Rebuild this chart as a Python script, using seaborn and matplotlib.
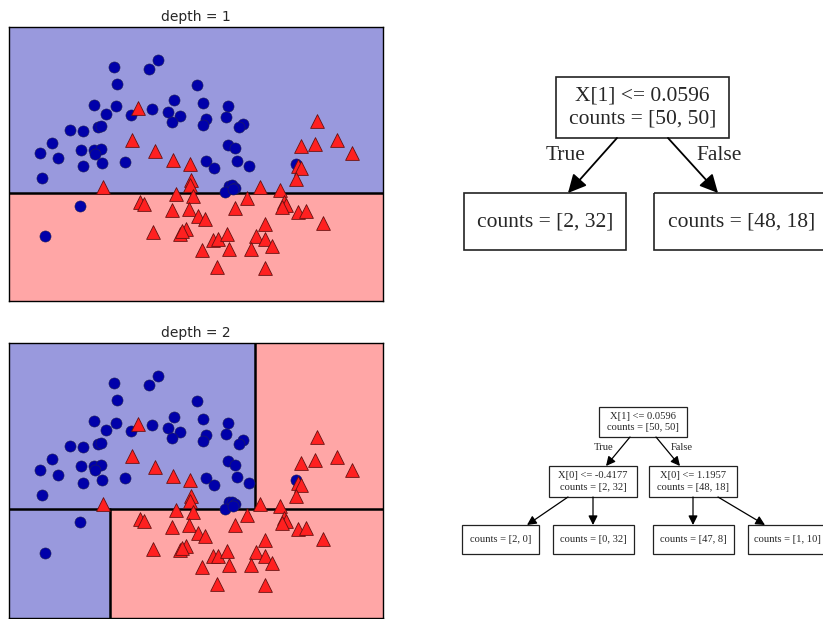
import numpy as np
import pandas as pd
import matplotlib
matplotlib.use("Agg")
import matplotlib.pyplot as plt
import seaborn as sns
from matplotlib.patches import Rectangle

sns.set_style("white")

# two moons data, class 0 (blue circles)
x0 = [-0.373, -0.336, 0.020, 0.122, -0.588, -0.459, -0.348, -0.184, 0.050, 0.231,
      0.361, -0.863, -0.715, -0.548, -0.521, -1.060, -1.189, -0.996, -0.737, -0.596,
      -0.521, -0.581, -0.721, -0.499, -0.243, -1.171, 0.554, 0.294, 0.614, 0.899,
      0.269, 0.658, 0.620, 0.873, 1.066, 1.018, 0.892, 0.973, 0.650, 0.740,
      0.999, 1.126, 0.906, 0.940, 0.973, 0.862, 1.652, 0.951, -0.744, -1.133]
y0 = [1.383, 1.200, 1.362, 1.452, 0.986, 0.888, 0.968, 0.881, 0.944, 0.909,
      0.870, 0.723, 0.709, 0.747, 0.757, 0.583, 0.477, 0.421, 0.512, 0.512,
      0.520, 0.470, 0.336, 0.372, 0.386, 0.214, 1.196, 1.031, 1.004, 0.968,
      0.804, 0.835, 0.772, 0.852, 0.783, 0.747, 0.565, 0.526, 0.393, 0.315,
      0.396, 0.336, 0.133, 0.139, 0.112, 0.067, 0.365, 0.096, -0.077, -0.400]

# class 1 (red triangles)
x1 = [-0.103, -0.165, 0.086, 0.287, 0.480, 0.484, 0.472, -0.492, 1.893, 1.715,
      1.867, 2.111, 2.272, 1.678, 1.715, 1.649, 1.259, 1.474,
      -0.084, -0.039, 0.322, 0.509, 0.269, 0.465, 0.559, 0.642, 0.064, 0.367,
      0.428, 0.728, 0.787, 0.881, 0.606, 0.910, 0.770, 0.973, 1.112, 1.307,
      1.212, 1.307, 1.382, 1.151, 1.307, 1.518, 1.544, 1.502, 1.678, 1.761,
      1.950, 0.389]
y1 = [0.951, 0.617, 0.502, 0.407, 0.365, 0.196, 0.144, 0.120, 0.814, 0.547,
      0.575, 0.610, 0.477, 0.336, 0.320, 0.204, 0.115, 0.091,
      -0.040, -0.061, 0.049, 0.028, -0.125, -0.109, -0.183, -0.216, -0.356, -0.370,
      -0.319, -0.432, -0.428, -0.372, -0.546, -0.527, -0.725, -0.101, 0.004, -0.264,
      -0.391, -0.428, -0.501, -0.528, -0.728, -0.035, -0.067, -0.088, -0.143, -0.137,
      -0.253, -0.346]

# tree splits
split_y = 0.0596
split_x_low = -0.4177
split_x_high = 1.1957

tree1_nodes = ["X[1] <= 0.0596\ncounts = [50, 50]", "counts = [2, 32]", "counts = [48, 18]"]
tree2_nodes = ["X[1] <= 0.0596\ncounts = [50, 50]",
               "X[0] <= -0.4177\ncounts = [2, 32]", "X[0] <= 1.1957\ncounts = [48, 18]",
               "counts = [2, 0]", "counts = [0, 32]", "counts = [47, 8]", "counts = [1, 10]"]
edge_labels = ["True", "False"]

df = pd.DataFrame({"x": x0 + x1, "y": y0 + y1,
                   "cls": [0] * len(x0) + [1] * len(x1)})

BLUE, RED = "#0000aa", "#ff2020"
BLUE_BG, RED_BG = "#9999dd", "#ffa6a6"

eps = 0.35
xmin, xmax = df.x.min() - eps, df.x.max() + eps
ymin, ymax = df.y.min() - eps, df.y.max() + eps

fig = plt.figure(figsize=(8.23, 6.19), dpi=100)


def draw_points(ax):
    sns.scatterplot(data=df[df.cls == 0], x="x", y="y", marker="o", color=BLUE,
                    s=64, edgecolor="#222255", linewidth=0.4, ax=ax, legend=False, zorder=3)
    sns.scatterplot(data=df[df.cls == 1], x="x", y="y", marker="^", color=RED,
                    s=98, edgecolor="#661111", linewidth=0.6, ax=ax, legend=False, zorder=3)
    ax.set_xlim(xmin, xmax)
    ax.set_ylim(ymin, ymax)
    ax.set_xticks([])
    ax.set_yticks([])
    ax.set_xlabel("")
    ax.set_ylabel("")
    for sp in ax.spines.values():
        sp.set_color("k")
        sp.set_linewidth(1.0)


# depth = 1
ax1 = fig.add_axes([9 / 823, 1 - 301 / 619, 374 / 823, 274 / 619])
ax1.fill_between([xmin, xmax], split_y, ymax, color=BLUE_BG, lw=0)
ax1.fill_between([xmin, xmax], ymin, split_y, color=RED_BG, lw=0)
ax1.plot([xmin, xmax], [split_y, split_y], color="k", lw=1.8, zorder=2)
draw_points(ax1)
ax1.set_title("depth = 1", fontsize=10, pad=4)

# depth = 2
ax2 = fig.add_axes([9 / 823, 1 / 619, 374 / 823, 275 / 619])
ax2.fill_between([xmin, split_x_high], split_y, ymax, color=BLUE_BG, lw=0)
ax2.fill_between([split_x_high, xmax], split_y, ymax, color=RED_BG, lw=0)
ax2.fill_between([xmin, split_x_low], ymin, split_y, color=BLUE_BG, lw=0)
ax2.fill_between([split_x_low, xmax], ymin, split_y, color=RED_BG, lw=0)
ax2.plot([xmin, xmax], [split_y, split_y], color="k", lw=1.8, zorder=2)
ax2.plot([split_x_low, split_x_low], [ymin, split_y], color="k", lw=1.8, zorder=2)
ax2.plot([split_x_high, split_x_high], [split_y, ymax], color="k", lw=1.8, zorder=2)
draw_points(ax2)
ax2.set_title("depth = 2", fontsize=10, pad=4)

# tree diagrams, drawn in pixel space on an overlay axes
axt = fig.add_axes([0, 0, 1, 1], zorder=-1)
axt.set_xlim(0, 823)
axt.set_ylim(619, 0)
axt.axis("off")
serif = "Liberation Serif"


def node(x0_, y0_, x1_, y1_, text, fs, lw):
    axt.add_patch(Rectangle((x0_, y0_), x1_ - x0_, y1_ - y0_, fill=False,
                            edgecolor="#222222", lw=lw, clip_on=False))
    axt.text((x0_ + x1_) / 2, (y0_ + y1_) / 2, text, ha="center", va="center",
             fontsize=fs, family=serif, linespacing=1.3)


def edge(p, q, lw, ms):
    axt.annotate("", xy=q, xytext=p,
                 arrowprops=dict(arrowstyle="-|>,head_length=0.5,head_width=0.25",
                                 color="k", lw=lw,
                                 mutation_scale=ms, shrinkA=0, shrinkB=0))


# tree for depth 1
fs1 = 15.5
node(556, 77, 729, 138, tree1_nodes[0], fs1, 1.2)
node(464, 193, 626, 250, tree1_nodes[1], fs1, 1.2)
node(654, 193, 830, 250, tree1_nodes[2], fs1, 1.2)
edge((617, 138), (568, 193), 1.3, 22)
edge((668, 138), (718, 193), 1.3, 22)
axt.text(566, 155, edge_labels[0], ha="center", va="center", fontsize=fs1, family=serif)
axt.text(719, 155, edge_labels[1], ha="center", va="center", fontsize=fs1, family=serif)

# tree for depth 2
fs2 = 7.6
node(599, 407, 687, 437, tree2_nodes[0], fs2, 0.9)
node(549, 466, 637, 497, tree2_nodes[1], fs2, 0.9)
node(649, 466, 737, 497, tree2_nodes[2], fs2, 0.9)
node(462, 525, 539, 554, tree2_nodes[3], fs2, 0.9)
node(553, 525, 634, 554, tree2_nodes[4], fs2, 0.9)
node(653, 525, 734, 554, tree2_nodes[5], fs2, 0.9)
node(748, 525, 827, 554, tree2_nodes[6], fs2, 0.9)
edge((630, 437), (606, 466), 0.9, 11)
edge((656, 437), (680, 466), 0.9, 11)
edge((568, 497), (527, 525), 0.9, 11)
edge((593, 497), (593, 525), 0.9, 11)
edge((693, 497), (693, 525), 0.9, 11)
edge((718, 497), (765, 525), 0.9, 11)
axt.text(604, 447, edge_labels[0], ha="center", va="center", fontsize=fs2, family=serif)
axt.text(682, 447, edge_labels[1], ha="center", va="center", fontsize=fs2, family=serif)

fig.savefig("out.png", dpi=100)
